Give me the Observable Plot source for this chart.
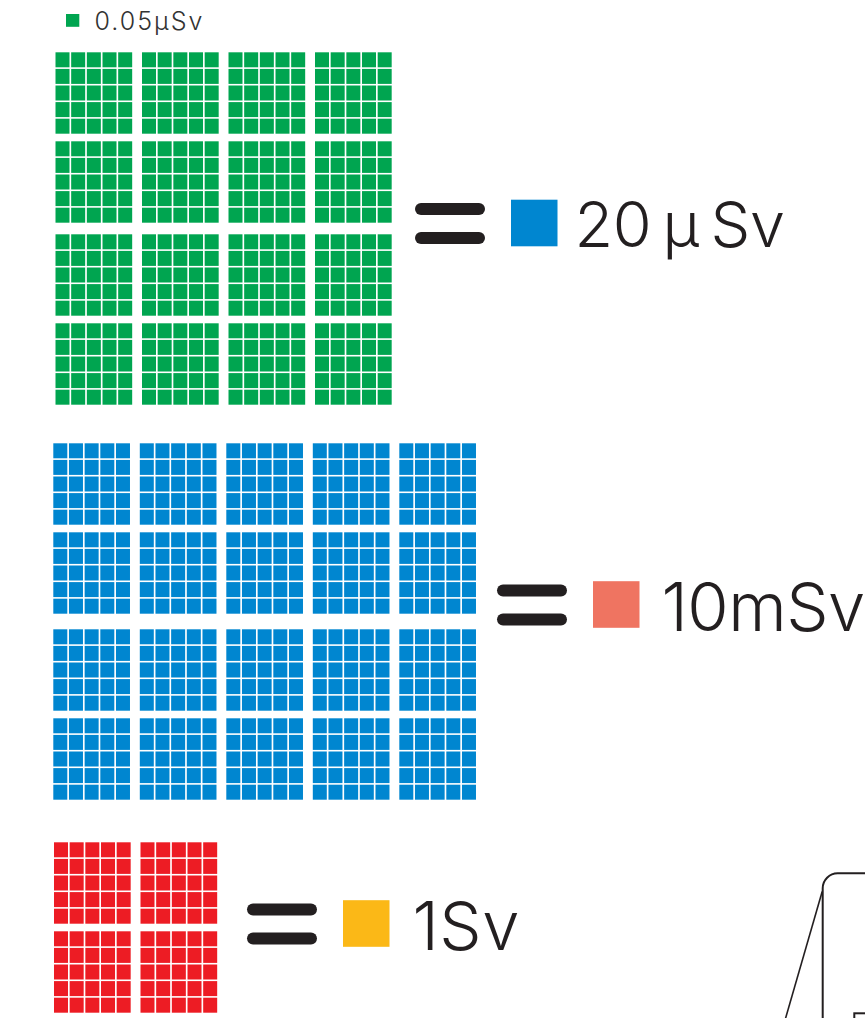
<!DOCTYPE html>
<html>
<head>
<meta charset="utf-8">
<script src="https://cdn.jsdelivr.net/npm/d3@7"></script>
<script src="https://cdn.jsdelivr.net/npm/@observablehq/plot@0.6"></script>
<style>
  html, body { margin: 0; padding: 0; background: #fff; overflow: hidden; }
  #chart svg { display: block; }
</style>
</head>
<body>
<div id="chart"></div>
<script>
// ================= DATA =================
const legendUnit = "0.05μSv";                       // value of one small green square
const gridNames = ["green", "blue", "red"];         // the three grids
const gridUnits = ["0.05μSv", "20μSv", "10mSv"];    // what one cell of each grid stands for
const gridEquals = ["20\u2009μ\u2009Sv", "10mSv", "1Sv"]; // what the whole grid equals
const cellCounts = [400, 500, 100];                 // cells in each grid
const blockCols = [4, 5, 2];                        // blocks per row of each grid
const blockSide = 5;                                // cells per block side (5x5 = 25)

// ================= STYLE / LAYOUT =================
const cellColor = ["#00a550", "#0086d0", "#ed1c24"];
const squareColor = ["#0086d0", "#ef7461", "#fbb817"];
const ink = "#231f20";
const FONT = "Inter, Roboto, 'Noto Sans', sans-serif";

const cellPitchX = 15.67, cellPitchY = 16.6, cellW = 14, cellH = 15;
const blockPitchX = 86.5, blockPitchY = 89;
const layout = [
  {x0: 55.5, y0: 52.3, midGap: 4, eqX: 415, eqY: 223, font: 63, textDx: 159, baseDy: 23.7, ls: -0.3},
  {x0: 53.3, y0: 443.3, midGap: 8, eqX: 497, eqY: 604.5, font: 67, textDx: 164, baseDy: 25.5, ls: -0.5},
  {x0: 54.0, y0: 842.3, midGap: 0, eqX: 247, eqY: 923.5, font: 67, textDx: 165, baseDy: 25.5, ls: 0.5}
];

// build cells from counts
const cells = [];
gridNames.forEach((g, gi) => {
  const L = layout[gi];
  for (let i = 0; i < cellCounts[gi]; i++) {
    const block = Math.floor(i / (blockSide * blockSide));
    const within = i % (blockSide * blockSide);
    const bc = block % blockCols[gi];
    const br = Math.floor(block / blockCols[gi]);
    const cc = within % blockSide;
    const cr = Math.floor(within / blockSide);
    const x1 = L.x0 + bc * blockPitchX + cc * cellPitchX;
    const y1 = L.y0 + br * blockPitchY + (br >= 2 ? L.midGap : 0) + cr * cellPitchY;
    cells.push({grid: gi, unit: gridUnits[gi], x1, x2: x1 + cellW, y1, y2: y1 + cellH});
  }
});

// equals signs, squares and labels
const bars = [];
const squares = [];
const labels = [];
gridNames.forEach((g, gi) => {
  const L = layout[gi];
  [-14.6, 14.6].forEach(off => bars.push({x1: L.eqX + 6, x2: L.eqX + 64, y: L.eqY + off}));
  squares.push({grid: gi, x1: L.eqX + 96, x2: L.eqX + 142.5, y1: L.eqY - 23.3, y2: L.eqY + 23.3});
  labels.push({text: gridEquals[gi], x: L.eqX + L.textDx, y: L.eqY + L.baseDy, size: L.font, ls: L.ls});
});

const chart = Plot.plot({
  width: 865,
  height: 1018,
  margin: 0,
  style: {background: "#fff", fontFamily: FONT},
  x: {type: "linear", domain: [0, 865], range: [0, 865], axis: null},
  y: {type: "linear", domain: [0, 1018], range: [0, 1018], axis: null},
  marks: [
    // grids
    Plot.rect(cells, {x1: "x1", x2: "x2", y1: "y1", y2: "y2", fill: d => cellColor[d.grid]}),
    // legend
    Plot.rect([legendUnit], {x1: 66, x2: 79.3, y1: 14, y2: 26.8, fill: cellColor[0]}),
    Plot.text([legendUnit], {x: 94, y: 29.5, text: d => d, textAnchor: "start", lineAnchor: "bottom",
      fontSize: 25, fontWeight: 300, fill: "#333", className: "legend-label"}),
    // equals signs
    Plot.ruleY(bars, {x1: "x1", x2: "x2", y: "y", stroke: ink, strokeWidth: 12, strokeLinecap: "round"}),
    // unit squares
    Plot.rect(squares, {x1: "x1", x2: "x2", y1: "y1", y2: "y2", fill: d => squareColor[d.grid]}),
    // labels
    ...labels.map((l, i) => Plot.text([l], {x: "x", y: "y", text: "text", textAnchor: "start", lineAnchor: "bottom",
      fontSize: l.size, fontWeight: 300, fill: ink, className: "eq-label-" + i})),
    // cut-off illustration at bottom right
    Plot.rect([0], {x1: 822.7, x2: 920, y1: 873.3, y2: 1100, rx: 15, fill: "none", stroke: ink, strokeWidth: 2}),
    Plot.link([0], {x1: 821.7, y1: 891, x2: 785, y2: 1018, stroke: ink, strokeWidth: 1.6}),
    Plot.rect([0], {x1: 854.3, x2: 920, y1: 1013.3, y2: 1100, fill: "none", stroke: ink, strokeWidth: 2})
  ]
});
// letter spacing tweaks
d3.select(chart).selectAll(".legend-label text").attr("letter-spacing", 2);
labels.forEach((l, i) => d3.select(chart).selectAll(".eq-label-" + i + " text").attr("letter-spacing", l.ls));
document.getElementById("chart").append(chart);
</script>
</body>
</html>
